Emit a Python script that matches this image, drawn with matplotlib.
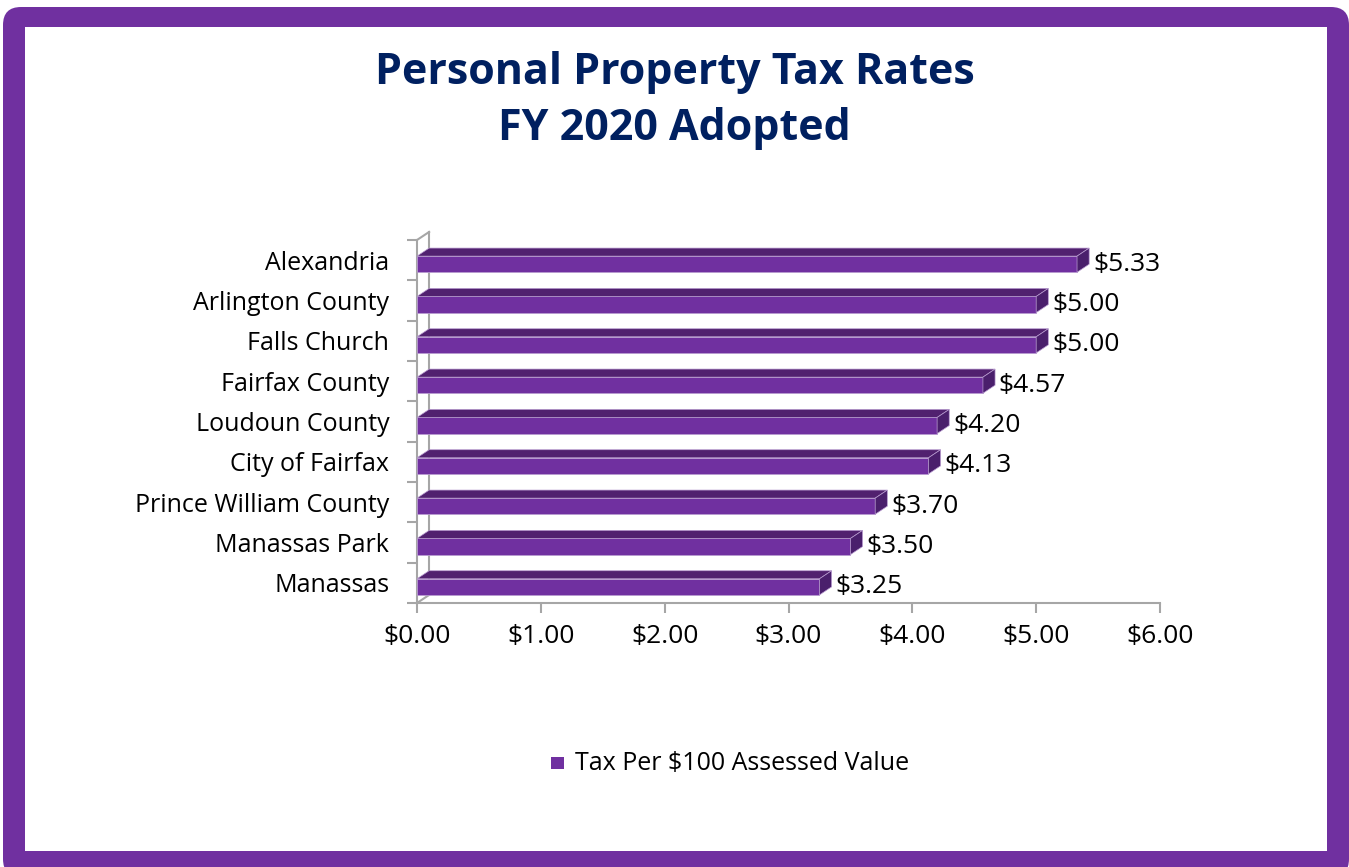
import matplotlib
matplotlib.use("Agg")
import matplotlib.pyplot as plt
from matplotlib.patches import Polygon, FancyBboxPatch, Rectangle
from matplotlib.ticker import FuncFormatter, FixedLocator
from matplotlib.transforms import IdentityTransform

plt.rcParams['text.parse_math'] = False
plt.rcParams['font.family'] = ['Open Sans', 'DejaVu Sans']

# data (top to bottom as in the chart)
places = ['Alexandria', 'Arlington County', 'Falls Church', 'Fairfax County',
          'Loudoun County', 'City of Fairfax', 'Prince William County',
          'Manassas Park', 'Manassas']
rates = [5.33, 5.00, 5.00, 4.57, 4.20, 4.13, 3.70, 3.50, 3.25]
x_ticks = [0, 1, 2, 3, 4, 5, 6]
series_name = 'Tax Per $100 Assessed Value'

purple = '#7030A0'
purple_top = '#51216f'
purple_end = '#4a1f6c'
navy = '#002060'
grey = '#a6a6a6'
fs_lab = 18
fs_num = 19

W, H = 1349, 867
fig = plt.figure(figsize=(W / 100, H / 100), dpi=100)

# purple frame
fig.patches.append(FancyBboxPatch((3, -10), W - 3, H - 7 + 10,
                                  boxstyle='round,pad=0,rounding_size=18',
                                  fc=purple, ec='none', transform=IdentityTransform(),
                                  figure=fig, zorder=-10))
fig.patches.append(Rectangle((25, H - 851), 1327 - 25, 851 - 27, fc='white', ec='none',
                             transform=IdentityTransform(), figure=fig, zorder=-9))

ax = fig.add_axes([417 / W, 1 - 603 / H, (1160 - 417) / W, (603 - 240) / H])
ax.set_facecolor('none')

n = len(places)
ypos = [n - 1 - i for i in range(n)]
bh = 0.40      # front face height
dx = 0.098     # depth in x (data units)
dy = 0.20      # depth in y (data units)
yc = -0.10     # shift of front face centre inside the band

fronts = ax.barh([y + yc for y in ypos], rates, height=bh, color=purple,
                 edgecolor='#b89bd0', linewidth=0.6, zorder=3)
for y, v in zip(ypos, rates):
    top = y + yc + bh / 2
    bot = y + yc - bh / 2
    ax.add_patch(Polygon([(0, top), (v, top), (v + dx, top + dy), (dx, top + dy)],
                         closed=True, fc=purple_top, ec='#b89bd0', lw=0.5, zorder=3))
    ax.add_patch(Polygon([(v, bot), (v, top), (v + dx, top + dy), (v + dx, bot + dy)],
                         closed=True, fc=purple_end, ec='#b89bd0', lw=0.5, zorder=3))
    ax.text(v + dx + 0.03, y + yc, '$%.2f' % v, va='center', ha='left',
            fontsize=fs_num, color='black', zorder=4)

ax.set_xlim(0, 6)
ax.set_ylim(-0.5, n - 0.5)

# back wall / floor edges
ax.plot([dx, dx], [-0.5 + dy, n - 0.5 + dy], color=grey, lw=1.5, clip_on=False, zorder=1)
ax.plot([0, dx], [n - 0.5, n - 0.5 + dy], color=grey, lw=1.5, clip_on=False, zorder=1)
ax.plot([0, dx], [-0.5, -0.5 + dy], color=grey, lw=1.5, clip_on=False, zorder=1)

for s in ['top', 'right']:
    ax.spines[s].set_visible(False)
for s in ['left', 'bottom']:
    ax.spines[s].set_color(grey)
    ax.spines[s].set_linewidth(1.5)

ax.set_xticks(x_ticks)
ax.xaxis.set_major_formatter(FuncFormatter(lambda v, p: '$%.2f' % v))
ax.yaxis.set_major_locator(FixedLocator([y - 0.5 for y in range(n + 1)]))
ax.yaxis.set_major_formatter(FuncFormatter(lambda v, p: ''))
ax.yaxis.set_minor_locator(FixedLocator(ypos))
ax.set_yticklabels(places, minor=True)
ax.tick_params(axis='y', which='minor', length=0, pad=20, labelsize=fs_lab)
ax.tick_params(axis='y', which='major', length=7, color=grey, width=1.5)
ax.tick_params(axis='x', length=7, color=grey, width=1.5, labelsize=fs_num, pad=8)

fig.text(0.5, 1 - 73 / H, 'Personal Property Tax Rates', ha='center', va='center',
         fontsize=31, fontweight='bold', color=navy)
fig.text(0.5, 1 - 129 / H, 'FY 2020 Adopted', ha='center', va='center',
         fontsize=31, fontweight='bold', color=navy)

# legend
fig.patches.append(Rectangle((551, H - 769), 13, 12, fc=purple, ec='none',
                             transform=IdentityTransform(), figure=fig))
fig.text(575 / W, 1 - 764 / H, series_name, ha='left', va='center', fontsize=fs_lab,
         color='black')

fig.savefig('out.png', dpi=100)
